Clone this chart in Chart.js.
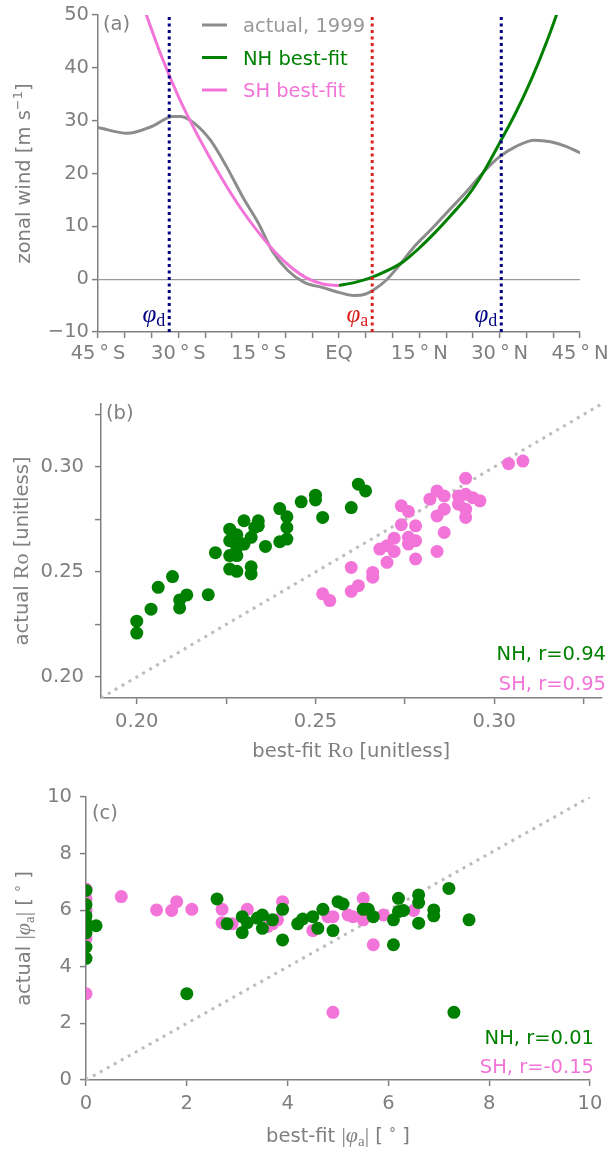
<!DOCTYPE html>
<html>
<head>
<meta charset="utf-8">
<script src="https://cdn.jsdelivr.net/npm/chart.js@4.4.1/dist/chart.umd.min.js"></script>
<style>
  body { margin: 0; background: #fff; }
  canvas { position: absolute; left: 0; }
</style>
</head>
<body>
<canvas id="chartA" width="608" height="372" style="top:0"></canvas>
<canvas id="chartB" width="608" height="390" style="top:380px"></canvas>
<canvas id="chartC" width="608" height="381" style="top:770px"></canvas>
<script>
// ---- panel (a): zonal wind profiles ----
const latActual = [-45, -39.5, -35, -31, -29.5, -27, -24, -21, -18, -15, -12.5, -9.5, -6.5, -3, 0, 2.8, 5, 6.5, 8.7, 11, 14, 17, 20.5, 24, 27, 30, 33, 36.5, 39.5, 42.5, 45];
const uActual = [28.7, 27.6, 28.9, 30.8, 30.8, 29.5, 26.3, 21.3, 15.6, 10.5, 5.4, 1.6, -0.6, -1.6, -2.5, -3.1, -2.8, -2, -0.3, 2.3, 6.1, 9.2, 13, 16.8, 20.3, 23.2, 25.1, 26.3, 26, 25.1, 23.9];
const latNH = [0, 3, 6, 9, 12, 15, 18, 21, 24, 27, 30, 33, 36, 39, 42];
const uNH = [-1.2, -0.6, 0.3, 1.6, 3.3, 5.9, 8.9, 12.2, 15.7, 20.3, 25.8, 31.5, 38, 45.5, 54];
const latSH = [0, -3, -6, -9, -12, -15, -18, -21, -24, -27, -30, -33, -36, -38];
const uSH = [-1.2, -0.9, 0.2, 2.3, 5.2, 8.8, 12.9, 17.6, 22.8, 28.4, 34.6, 41.8, 50.1, 56];
const phiD = [-31.7, 30.3];
const phiA = 6.2;
const latTicks = [-45, -40, -35, -30, -25, -20, -15, -10, -5, 0, 5, 10, 15, 20, 25, 30, 35, 40, 45];
const latLabelVals = [-45, -30, -15, 0, 15, 30, 45];
const latLabels = ['45\u2009°\u2009S', '30\u2009°\u2009S', '15\u2009°\u2009S', 'EQ', '15\u2009°\u2009N', '30\u2009°\u2009N', '45\u2009°\u2009N'];
const windTicks = [-10, 0, 10, 20, 30, 40, 50];

// ---- panel (b): Rossby number ----
const nhRoFit = [0.200,0.200,0.204,0.206,0.210,0.212,0.212,0.214,0.220,0.222,0.226,0.226,0.226,0.226,0.228,0.228,0.228,0.228,0.230,0.230,0.232,0.232,0.232,0.233,0.234,0.234,0.236,0.240,0.240,0.242,0.242,0.242,0.246,0.250,0.250,0.252,0.260,0.262,0.264];
const nhRoAct = [0.2266,0.2209,0.2323,0.2427,0.2478,0.2367,0.2329,0.2391,0.2392,0.2592,0.2704,0.2649,0.2578,0.2514,0.2677,0.2617,0.2578,0.2503,0.2744,0.2633,0.2665,0.2525,0.2491,0.2712,0.2744,0.2720,0.2622,0.2802,0.2644,0.2763,0.2712,0.2657,0.2834,0.2866,0.2843,0.2760,0.2807,0.2918,0.2886];
const shRoFit = [0.252,0.254,0.260,0.260,0.262,0.266,0.266,0.268,0.270,0.270,0.272,0.272,0.274,0.274,0.276,0.276,0.276,0.278,0.278,0.278,0.282,0.284,0.284,0.284,0.286,0.286,0.286,0.290,0.290,0.292,0.292,0.292,0.292,0.294,0.296,0.304,0.308];
const shRoAct = [0.2396,0.2364,0.2522,0.2408,0.2435,0.2498,0.2475,0.2609,0.2546,0.2625,0.2598,0.2661,0.2815,0.2725,0.2788,0.2633,0.2665,0.2720,0.2649,0.2562,0.2847,0.2886,0.2767,0.2598,0.2862,0.2799,0.2688,0.2862,0.2823,0.2946,0.2870,0.2799,0.2760,0.2854,0.2839,0.3016,0.3028];
const roTicks = [0.2, 0.225, 0.25, 0.275, 0.3, 0.325];
const roLabelVals = [0.2, 0.25, 0.3];
const roRange = [0.19, 0.33];
const rB = ['NH, r=0.94', 'SH, r=0.95'];

// ---- panel (c): ascending-branch latitude ----
const nhPhiFit = [0,0,0,0,0,0,0,0.2,2.0,2.6,2.8,3.1,3.1,3.2,3.4,3.5,3.5,3.7,3.9,3.9,4.2,4.3,4.5,4.6,4.7,4.9,5.0,5.1,5.5,5.6,5.7,6.1,6.1,6.2,6.2,6.3,6.6,6.6,6.6,6.9,6.9,7.2,7.3,7.6];
const nhPhiAct = [6.7,6.2,5.8,5.55,5.2,4.7,4.3,5.45,3.05,6.4,5.52,5.77,5.21,5.56,5.72,5.83,5.36,5.66,6.03,4.95,5.52,5.69,5.77,5.36,6.03,5.28,6.3,6.22,6.03,6.03,5.77,5.66,4.78,6.42,5.95,5.99,6.54,6.27,5.54,6.01,5.8,6.77,2.39,5.66];
const shPhiFit = [0,0,0,0,0,0,0.7,1.4,1.7,1.8,2.1,2.7,2.7,2.9,3.2,3.6,3.7,3.8,3.9,4.5,4.8,4.9,4.9,5.2,5.3,5.5,5.5,5.7,5.9,6.5];
const shPhiAct = [6.75,6.4,6.0,5.6,5.0,3.05,6.48,6.01,5.99,6.3,6.03,6.03,5.56,5.52,6.03,5.42,5.52,5.66,6.3,5.28,5.77,5.77,2.39,5.83,5.77,6.42,5.66,4.78,5.83,5.99];
const phiTicks = [0, 2, 4, 6, 8, 10];
const rC = ['NH, r=0.01', 'SH, r=-0.15'];

const GREEN = '#008000', PINK = '#f374d8', GRAY = '#8c8c8c', NAVY = '#000080', RED = '#d9211e';
const AXIS = '#808080', TXT = '#7f7f7f', DIAG = '#bdbdbd';
const SANS = '"DejaVu Sans", sans-serif', SERIF = '"Liberation Serif", "DejaVu Serif", serif';
const FS = 19.5;

const zip = (xs, ys) => xs.map((x, i) => ({ x: x, y: ys[i] }));

// draw text made of pieces with different fonts (baseline at y)
function rich(ctx, parts, x, y, align, rot) {
  ctx.save();
  ctx.translate(x, y);
  if (rot) ctx.rotate(rot);
  ctx.textAlign = 'left';
  ctx.textBaseline = 'alphabetic';
  let w = 0;
  parts.forEach(p => { ctx.font = p.f; p.w = ctx.measureText(p.t).width; w += p.w; });
  let cx = align === 'center' ? -w / 2 : align === 'right' ? -w : 0;
  parts.forEach(p => {
    ctx.font = p.f;
    ctx.fillStyle = p.c || TXT;
    ctx.fillText(p.t, cx, p.dy || 0);
    cx += p.w;
  });
  ctx.restore();
}
const sans = (t, c) => ({ t: t, f: FS + 'px ' + SANS, c: c });

function axis(opts) {
  const vert = opts.vertical;
  return {
    type: 'linear',
    min: opts.min, max: opts.max,
    border: { color: AXIS, width: 1.5 },
    grid: {
      drawOnChartArea: !!opts.zeroLine,
      color: c => (opts.zeroLine && c.tick && c.tick.value === 0) ? '#9a9a9a' : 'rgba(0,0,0,0)',
      lineWidth: 1.2,
      tickColor: AXIS, tickLength: 6, tickWidth: 1.5
    },
    afterBuildTicks: s => { s.ticks = opts.ticks.map(v => ({ value: v })); },
    afterFit: s => {
      if (vert) { s.width = opts.size; s.paddingTop = 0; s.paddingBottom = 0; }
      else { s.height = opts.size; s.paddingLeft = 0; s.paddingRight = 0; }
    },
    ticks: {
      autoSkip: false, maxRotation: 0, minRotation: 0,
      color: TXT, padding: opts.pad,
      font: { family: SANS, size: FS },
      callback: opts.label
    }
  };
}

const baseOpts = (pad, scales) => ({
  responsive: false, animation: false, devicePixelRatio: 1,
  layout: { padding: pad },
  plugins: { legend: { display: false }, tooltip: { enabled: false } },
  scales: scales
});

// ---------- (a) ----------
const vline = (x, color) => ({
  data: [{ x: x, y: -10 }, { x: x, y: 50 }],
  showLine: true, borderColor: color, borderWidth: 3, borderDash: [3, 3.5],
  pointRadius: 0, order: 1
});

new Chart(document.getElementById('chartA'), {
  type: 'scatter',
  data: {
    datasets: [
      { data: zip(latActual, uActual), showLine: true, borderColor: GRAY, borderWidth: 3, pointRadius: 0, cubicInterpolationMode: 'monotone', order: 5 },
      { data: zip(latSH, uSH), showLine: true, borderColor: PINK, borderWidth: 3, pointRadius: 0, cubicInterpolationMode: 'monotone', order: 4 },
      { data: zip(latNH, uNH), showLine: true, borderColor: GREEN, borderWidth: 3, pointRadius: 0, cubicInterpolationMode: 'monotone', order: 3 },
      vline(phiD[0], NAVY), vline(phiD[1], NAVY), vline(phiA, RED)
    ]
  },
  options: baseOpts({ top: 15, right: 28, left: 0, bottom: 0 }, {
    x: axis({ min: -45, max: 45, ticks: latTicks, size: 40, pad: 4,
      label: v => { const i = latLabelVals.indexOf(v); return i >= 0 ? latLabels[i] : ''; } }),
    y: axis({ vertical: true, min: -10, max: 50, ticks: windTicks, size: 98, pad: 3, zeroLine: true,
      label: v => String(v).replace('-', '\u2212') })
  }),
  plugins: [{
    id: 'annA',
    afterDraw(chart) {
      const ctx = chart.ctx, a = chart.chartArea, xs = chart.scales.x;
      rich(ctx, [sans('zonal wind [m s'), { t: '\u22121', f: '13px ' + SANS, dy: -8 }, sans(']')], 30, (a.top + a.bottom) / 2, 'center', -Math.PI / 2);
      rich(ctx, [sans('(a)')], a.left + 5, a.top + 15, 'left');
      const items = [['actual, 1999', GRAY], ['NH best-fit', GREEN], ['SH best-fit', PINK]];
      items.forEach((it, i) => {
        const y = 25 + i * 32.5;
        ctx.strokeStyle = it[1]; ctx.lineWidth = 3;
        ctx.beginPath(); ctx.moveTo(202, y); ctx.lineTo(227, y); ctx.stroke();
        rich(ctx, [sans(it[0], it[1] === GRAY ? '#999999' : it[1])], 243, y + 7, 'left');
      });
      const phiLab = (v, sub, color) => rich(ctx, [
        { t: '\u03c6', f: 'italic 25px ' + SERIF, c: color },
        { t: sub, f: '18px ' + SERIF, c: color, dy: 4 }
      ], xs.getPixelForValue(v) - 4, a.bottom - 10, 'right');
      phiLab(phiD[0], 'd', NAVY);
      phiLab(phiA, 'a', RED);
      phiLab(phiD[1], 'd', NAVY);
    }
  }]
});

// ---------- (b) ----------
const diag = (lo, hi) => ({
  data: [{ x: lo, y: lo }, { x: hi, y: hi }],
  showLine: true, borderColor: DIAG, borderWidth: 3, borderDash: [3, 5], pointRadius: 0, order: 9
});
const dots = (xs, ys, color, order) => ({
  data: zip(xs, ys), backgroundColor: color, borderWidth: 0, pointRadius: 6.5, order: order
});

new Chart(document.getElementById('chartB'), {
  type: 'scatter',
  data: { datasets: [diag(roRange[0], roRange[1]), dots(nhRoFit, nhRoAct, GREEN, 2), dots(shRoFit, shRoAct, PINK, 3)] },
  options: baseOpts({ top: 24, right: 3, left: 0, bottom: 0 }, {
    x: axis({ min: roRange[0], max: roRange[1], ticks: roTicks, size: 72, pad: 6,
      label: v => roLabelVals.indexOf(v) >= 0 ? v.toFixed(2) : '' }),
    y: axis({ vertical: true, min: roRange[0], max: roRange[1], ticks: roTicks, size: 101, pad: 11,
      label: v => roLabelVals.indexOf(v) >= 0 ? v.toFixed(2) : '' })
  }),
  plugins: [{
    id: 'annB',
    afterDraw(chart) {
      const ctx = chart.ctx, a = chart.chartArea;
      const ro = { t: 'Ro', f: '22px ' + SERIF };
      rich(ctx, [sans('actual '), ro, sans(' [unitless]')], 28, (a.top + a.bottom) / 2, 'center', -Math.PI / 2);
      rich(ctx, [sans('best-fit '), ro, sans(' [unitless]')], (a.left + a.right) / 2, 377, 'center');
      rich(ctx, [sans('(b)')], a.left + 5, a.top + 15, 'left');
      rich(ctx, [sans(rB[0], GREEN)], 606, 280, 'right');
      rich(ctx, [sans(rB[1], PINK)], 606, 310, 'right');
    }
  }]
});

// ---------- (c) ----------
new Chart(document.getElementById('chartC'), {
  type: 'scatter',
  data: { datasets: [diag(0, 10), dots(nhPhiFit, nhPhiAct, GREEN, 2), dots(shPhiFit, shPhiAct, PINK, 3)] },
  options: baseOpts({ top: 27, right: 18, left: 0, bottom: 0 }, {
    x: axis({ min: 0, max: 10, ticks: phiTicks, size: 71, pad: 6, label: v => String(v) }),
    y: axis({ vertical: true, min: 0, max: 10, ticks: phiTicks, size: 86, pad: 8, label: v => String(v) })
  }),
  plugins: [{
    id: 'annC',
    afterDraw(chart) {
      const ctx = chart.ctx, a = chart.chartArea;
      const phiParts = () => [
        { t: '|', f: '22px ' + SERIF },
        { t: '\u03c6', f: 'italic 22px ' + SERIF },
        { t: 'a', f: '15px ' + SERIF, dy: 4 },
        { t: '|', f: '22px ' + SERIF },
        sans(' [ '), { t: '°', f: '14px ' + SANS, dy: -4 }, sans(' ]')
      ];
      rich(ctx, [sans('actual ')].concat(phiParts()), 30, (a.top + a.bottom) / 2, 'center', -Math.PI / 2);
      rich(ctx, [sans('best-fit ')].concat(phiParts()), (a.left + a.right) / 2, 372, 'center');
      rich(ctx, [sans('(c)')], a.left + 6, a.top + 22, 'left');
      rich(ctx, [sans(rC[0], GREEN)], 594, 274, 'right');
      rich(ctx, [sans(rC[1], PINK)], 594, 303, 'right');
    }
  }]
});
</script>
</body>
</html>
